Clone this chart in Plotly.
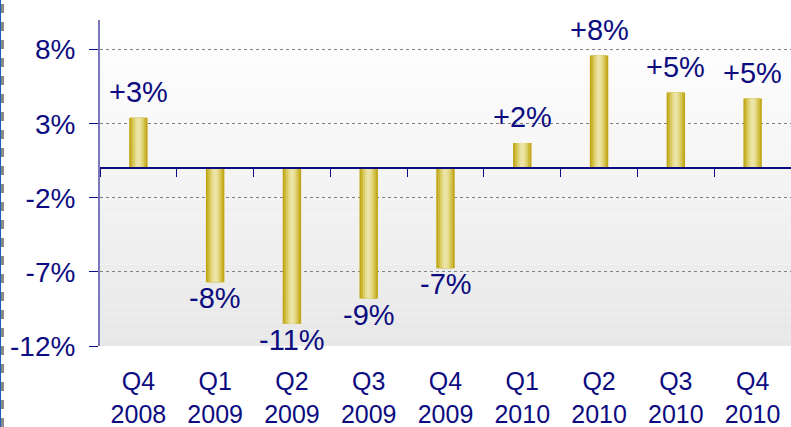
import plotly.graph_objects as go

categories = ["Q4<br>2008", "Q1<br>2009", "Q2<br>2009", "Q3<br>2009", "Q4<br>2009",
              "Q1<br>2010", "Q2<br>2010", "Q3<br>2010", "Q4<br>2010"]
values = [3.4, -7.7, -10.5, -8.8, -6.75, 1.7, 7.6, 5.1, 4.7]
labels = ["+3%", "-8%", "-11%", "-9%", "-7%", "+2%", "+8%", "+5%", "+5%"]
ytick_vals = [8, 3, -2, -7, -12]
ytick_text = ["8%", "3%", "-2%", "-7%", "-12%"]

NAVY = "#0c0c80"
FONT = "Liberation Sans, Arial, sans-serif"

fig = go.Figure()

# bar layers (simulated horizontal gradient)
layers = [(0.24, "#bfa514"), (0.20, "#cdb83a"), (0.15, "#dacb62"), (0.10, "#e4da88"), (0.05, "#ebe4a6")]
for w, c in layers:
    fig.add_trace(go.Bar(
        x=categories, y=values, width=w, marker=dict(color=c, line=dict(width=0)),
        cliponaxis=False, hoverinfo="skip", showlegend=False,
    ))

# value labels
for cat, v, lab in zip(categories, values, labels):
    fig.add_annotation(x=cat, y=v, text=lab, showarrow=False,
                       yanchor="bottom" if v >= 0 else "top",
                       yshift=8 if v >= 0 else 2,
                       font=dict(size=29, color=NAVY, family=FONT))

# invisible trace for the zero-line tick axis
fig.add_trace(go.Scatter(x=categories, y=[0] * len(categories), xaxis="x2",
                         mode="markers", marker=dict(opacity=0), hoverinfo="skip", showlegend=False))

# background vertical gradient bands
n = 40
for k in range(n):
    t = k / (n - 1)
    g = int(round(255 - t * (255 - 232)))
    fig.add_shape(type="rect", xref="paper", yref="paper", x0=0, x1=1,
                  y0=1 - (k + 1) / n, y1=1 - k / n, layer="below",
                  fillcolor=f"rgb({g},{g},{g})", line=dict(width=0))

# dashed left border
fig.add_shape(type="line", xref="paper", yref="paper", x0=-99.5 / 691, x1=-99.5 / 691,
              y0=-81 / 326, y1=1 + 20 / 326, line=dict(color="#1a5fb4", width=1))
fig.add_shape(type="line", xref="paper", yref="paper", x0=-97.5 / 691, x1=-97.5 / 691,
              y0=-81 / 326, y1=1 + 20 / 326, line=dict(color="#8a8a8a", width=3, dash="dash"))

fig.update_layout(
    width=791, height=427,
    margin=dict(l=100, r=0, t=20, b=81, autoexpand=False),
    paper_bgcolor="white", plot_bgcolor="rgba(0,0,0,0)",
    barmode="overlay",
    font=dict(family=FONT, color=NAVY),
    xaxis=dict(showline=False, ticks="", showgrid=False, zeroline=False, automargin=False,
               tickfont=dict(size=25, color=NAVY, family=FONT), ticklabelstandoff=18),
    xaxis2=dict(overlaying="x", matches="x", anchor="free", position=12 / 22,
                showline=True, linecolor=NAVY, linewidth=1.5, ticks="outside",
                tickson="boundaries", ticklen=8, tickcolor=NAVY, showticklabels=False,
                showgrid=False, zeroline=False, automargin=False),
    yaxis=dict(range=[-12, 10], tickvals=ytick_vals, ticktext=ytick_text, automargin=False,
               tickfont=dict(size=28, color=NAVY, family=FONT), ticklabelstandoff=8,
               showline=True, linecolor="#7a78b8", linewidth=2,
               ticks="outside", ticklen=9, tickcolor=NAVY,
               showgrid=True, gridcolor="#808080", griddash="dot", gridwidth=1,
               zeroline=False),
)

fig.write_html("out.html", config={"displayModeBar": False},
               post_script="document.body.style.margin='0px';document.body.style.overflow='hidden';")
